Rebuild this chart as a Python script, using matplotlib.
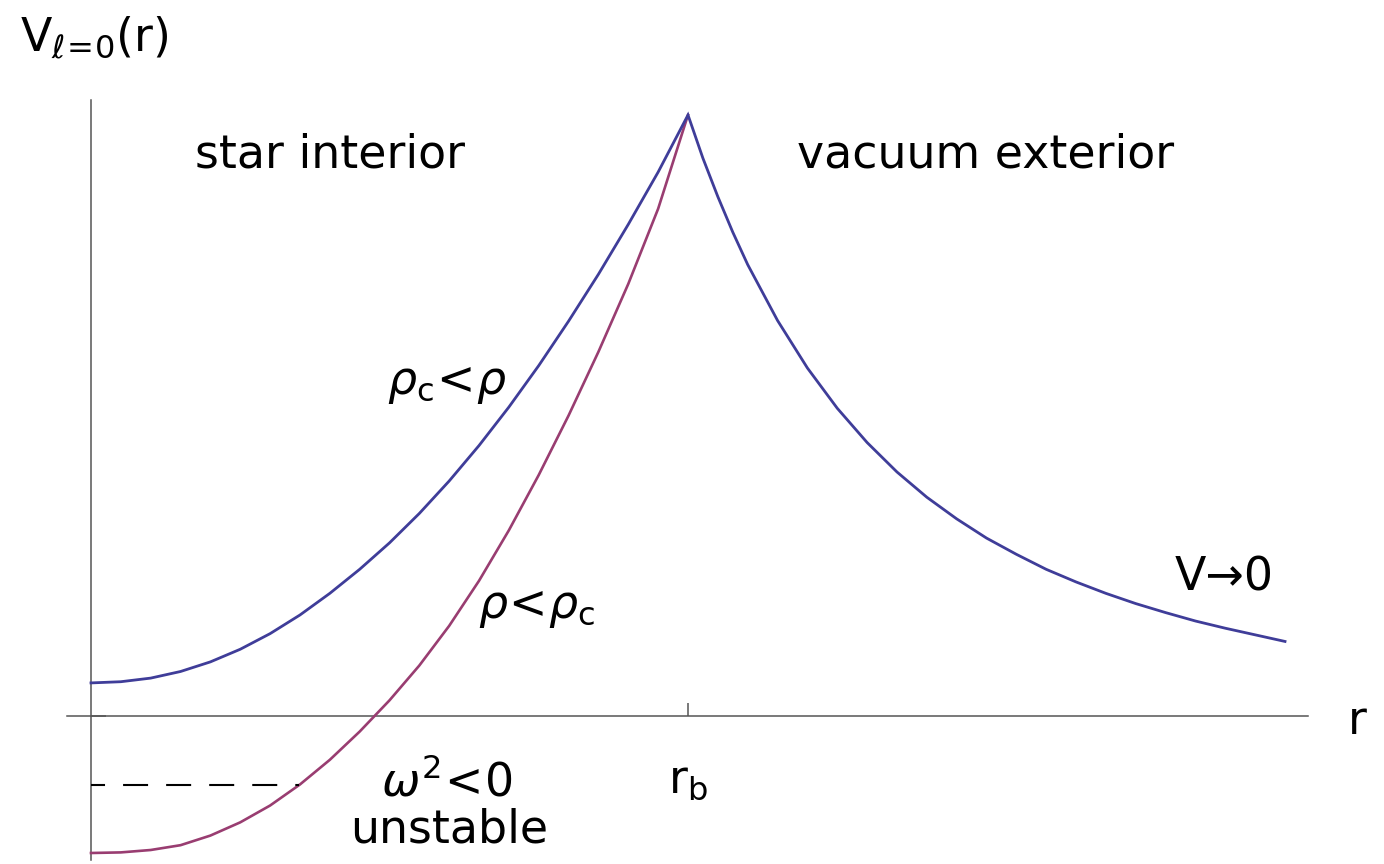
import numpy as np
import matplotlib
matplotlib.use('Agg')
import matplotlib.pyplot as plt

# radius in units of r_b, potential in units of its value at r_b
r_in = [0.0, 0.05, 0.10, 0.15, 0.20, 0.25, 0.30, 0.35, 0.40, 0.45, 0.50,
        0.55, 0.60, 0.65, 0.70, 0.75, 0.80, 0.85, 0.90, 0.95, 1.0]
# dense star (rho_c < rho)
v_dense = [0.055, 0.057, 0.063, 0.074, 0.090, 0.111, 0.137, 0.168, 0.204,
           0.244, 0.288, 0.337, 0.391, 0.450, 0.514, 0.583, 0.657, 0.735,
           0.818, 0.905, 1.0]
# light star (rho < rho_c)
v_light = [-0.228, -0.227, -0.223, -0.215, -0.199, -0.177, -0.149, -0.114,
           -0.073, -0.026, 0.026, 0.084, 0.150, 0.225, 0.309, 0.401, 0.500,
           0.606, 0.719, 0.844, 1.0]

r_out = [1.0, 1.025, 1.05, 1.075, 1.10, 1.15, 1.20, 1.25, 1.30, 1.35, 1.40,
         1.45, 1.50, 1.55, 1.60, 1.65, 1.70, 1.75, 1.80, 1.85, 1.90, 1.95, 2.0]
v_out = [1.0, 0.928, 0.864, 0.805, 0.751, 0.658, 0.579, 0.512, 0.455, 0.406,
         0.364, 0.328, 0.296, 0.269, 0.244, 0.223, 0.204, 0.187, 0.172, 0.158,
         0.146, 0.135, 0.124]

# lowest bound state level (omega^2 < 0)
unstable_level = -0.115
r_b = 1.0

blue = '#3f3d99'
purple = '#993d71'

plt.rcParams['font.family'] = ['DejaVu Sans']
plt.rcParams['mathtext.fontset'] = 'dejavusans'
plt.rcParams['lines.scale_dashes'] = False

fig = plt.figure(figsize=(13.84, 8.64), dpi=100)
ax = fig.add_axes([0, 0, 1, 1])
ax.set_xlim(-0.1524, 2.1658)
ax.set_ylim(-0.2463, 1.1913)

# interior and exterior of the dense star meet in a cusp at r_b
ax.plot(r_in + r_out[1:], v_dense + v_out[1:], color=blue, lw=2.0,
        solid_joinstyle='miter', zorder=3)
ax.plot(r_in, v_light, color=purple, lw=1.9, solid_joinstyle='round', zorder=2)

# dashed level runs from the axis to the light-star curve
r_cross = np.interp(unstable_level, v_light[:11], r_in[:11])
ax.plot([0, r_cross], [unstable_level, unstable_level], color='black',
        lw=1.5, linestyle=(7.9, (18, 13)))

# axes through the origin
for side in ['top', 'right']:
    ax.spines[side].set_visible(False)
ax.spines['left'].set_position(('data', 0))
ax.spines['bottom'].set_position(('data', 0))
ax.spines['left'].set_bounds(-0.24, 1.025)
ax.spines['bottom'].set_bounds(-0.040, 2.039)
for side in ['left', 'bottom']:
    ax.spines[side].set_color('#555555')
    ax.spines[side].set_linewidth(1.1)
    ax.spines[side].set_zorder(0)

ax.set_xticks([r_b])
ax.set_xticklabels([])
ax.set_yticks([0])
ax.set_yticklabels([])
ax.tick_params(axis='x', direction='in', length=9.5, width=1.1, color='#555555')
ax.tick_params(axis='y', direction='in', length=11, width=1.1, color='#555555')

fs = 33
ax.text(-0.119, 1.128, r'V$_{\ell\!=\!0}$(r)', fontsize=fs, ha='left', va='center')
ax.text(2.121, -0.010, 'r', fontsize=fs, ha='center', va='center')
ax.text(r_b, -0.106, r'r$_{\mathrm{b}}$', fontsize=fs, ha='center', va='center')
ax.text(0.400, 0.933, 'star interior', fontsize=fs, ha='center', va='center')
ax.text(1.499, 0.933, 'vacuum exterior', fontsize=fs, ha='center', va='center')
ax.text(0.596, 0.554, r'$\rho_{\mathrm{c}}\!<\!\rho$', fontsize=fs, ha='center', va='center')
ax.text(0.747, 0.181, r'$\rho\!<\!\rho_{\mathrm{c}}$', fontsize=fs, ha='center', va='center')
ax.text(1.898, 0.230, 'V→0', fontsize=fs, ha='center', va='center')
ax.text(0.596, -0.111, r'$\omega^{2}\!<\!0$', fontsize=fs, ha='center', va='center')
ax.text(0.600, -0.190, 'unstable', fontsize=fs, ha='center', va='center')

fig.savefig('out.png', dpi=100)
